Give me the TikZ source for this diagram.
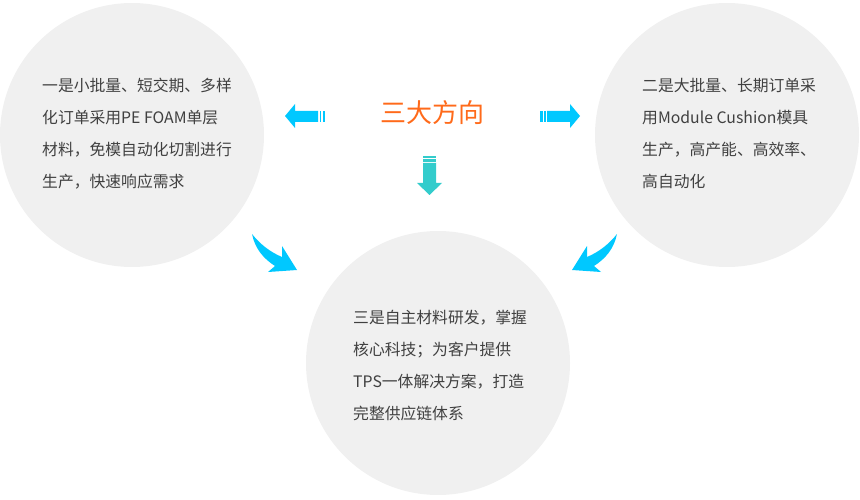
\documentclass[tikz,border=0pt]{standalone}
\usepackage{fontspec}
\setmainfont{Noto Sans CJK SC}
\usepackage{tikz}
\usetikzlibrary{calc}
\definecolor{bubblegray}{HTML}{F0F0F0}
\definecolor{arrowblue}{HTML}{00C8FF}
\definecolor{arrowteal}{HTML}{33CCCC}
\definecolor{titleorange}{HTML}{FF6A1A}
\definecolor{textgray}{HTML}{404040}
\tikzset{
	bubble/.style={circle, fill=bubblegray, minimum size=264pt, inner sep=0pt},
	bubbletext/.style={anchor=west, align=left, inner sep=0pt, text=textgray, font=\fontsize{15.8}{32}\selectfont},
	headline/.style={inner sep=0pt, text=titleorange, font=\fontsize{26}{30}\selectfont},
}
\def\flatarrow{
	\fill[arrowblue] (285,116) -- (295,104) -- (295,111) -- (318,111) -- (318,122) -- (295,122) -- (295,128) -- cycle;
	\fill[arrowblue] (319.5,111) rectangle (321,122);
	\fill[arrowblue] (322.5,111) rectangle (325,122);
}
\def\bentarrow{
	\fill[arrowblue] (252,234) .. controls (260,244) and (270,252) .. (282,257) -- (282,246) -- (297,270) -- (268,272) -- (275,266) .. controls (264,259) and (255,249) .. (252,234) -- cycle;
}

\begin{document}
\begin{tikzpicture}[x=1pt, y=-1pt]
	%%%%% START %%%%%
	\useasboundingbox (0,0) rectangle (860,500);
	
	\node[bubble] (first) at (132,135) {};
	\node[bubble] (second) at (727,135) {};
	\node[bubble] (third) at (438,363) {};
	
	\node[bubbletext] (firsttext) at (42,134) {一是小批量、短交期、多样\\化订单采用PE FOAM单层\\材料，免模自动化切割进行\\生产，快速响应需求};
	\node[bubbletext] (secondtext) at (642,134) {二是大批量、长期订单采\\用Module Cushion模具\\生产，高产能、高效率、\\高自动化};
	\node[bubbletext] (thirdtext) at (353,366) {三是自主材料研发，掌握\\核心科技；为客户提供\\TPS一体解决方案，打造\\完整供应链体系};
	
	\node[headline] (direction) at (432.5,113) {三大方向};
	
	% left and right
	\flatarrow
	\begin{scope}[xshift=865pt, xscale=-1]
		\flatarrow
	\end{scope}
	
	% down
	\fill[arrowteal] (423,156) rectangle (436,158);
	\fill[arrowteal] (423,159) rectangle (436,162);
	\fill[arrowteal] (423,163) -- (436,163) -- (436,183) -- (442,183) -- (429.5,195) -- (417,183) -- (423,183) -- cycle;
	
	% bent ones
	\bentarrow
	\begin{scope}[xshift=869pt, xscale=-1]
		\bentarrow
	\end{scope}
	
	%%%%% END %%%%%
\end{tikzpicture}
\end{document}
